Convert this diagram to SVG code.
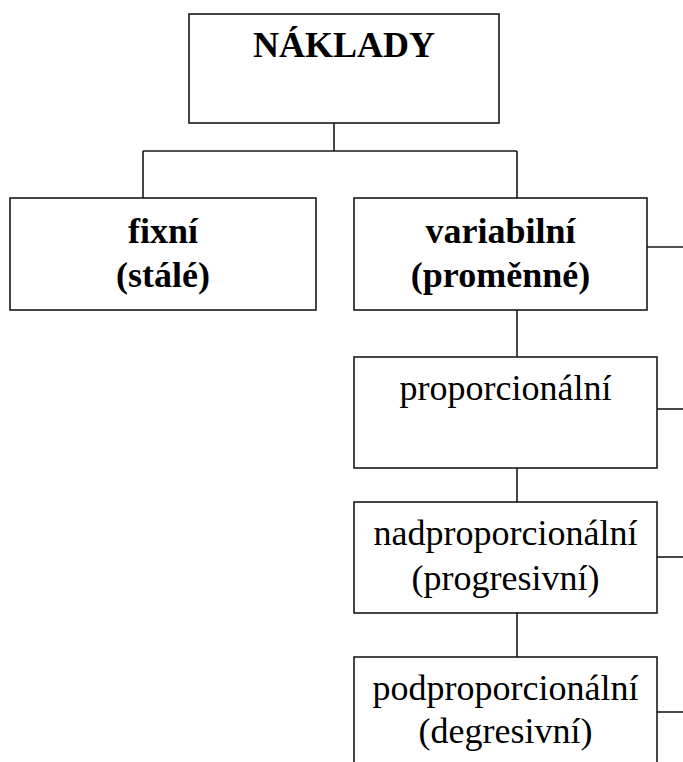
<svg xmlns="http://www.w3.org/2000/svg" width="683" height="762" viewBox="0 0 683 762">
<style>
.box{fill:#fff;stroke:#1a1a1a;stroke-width:1.6}
.con{fill:none;stroke:#1a1a1a;stroke-width:1.6}
.t{font-family:"Liberation Serif","Times New Roman",serif;font-size:36px;fill:#000;text-anchor:middle}
.b{font-weight:bold}
</style>
<rect width="683" height="762" fill="#fff"/>
<g id="connectors">
<path class="con" d="M334 123V151M143 151H517M143 151V198M517 151V198"/>
<path class="con" d="M647 247H683"/>
<path class="con" d="M517 310V357"/>
<path class="con" d="M657 409H683"/>
<path class="con" d="M517 468V502"/>
<path class="con" d="M657 557H683"/>
<path class="con" d="M517 613V657"/>
<path class="con" d="M657 712H683"/>
</g>
<g id="naklady">
<rect class="box" x="189" y="14" width="310" height="109"/>
<text class="t b" x="344" y="57">NÁKLADY</text>
</g>
<g id="fixni">
<rect class="box" x="10" y="198" width="306" height="112"/>
<text class="t b" x="163" y="243">fixní</text>
<text class="t b" x="163" y="287">(stálé)</text>
</g>
<g id="variabilni">
<rect class="box" x="354" y="198" width="293" height="112"/>
<text class="t b" x="500.5" y="243">variabilní</text>
<text class="t b" x="500.5" y="287">(proměnné)</text>
</g>
<g id="proporcionalni">
<rect class="box" x="354" y="357" width="303" height="111"/>
<text class="t" x="505.5" y="400">proporcionální</text>
</g>
<g id="nadproporcionalni">
<rect class="box" x="354" y="502" width="303" height="111"/>
<text class="t" x="505.5" y="545">nadproporcionální</text>
<text class="t" x="505.5" y="590">(progresivní)</text>
</g>
<g id="podproporcionalni">
<rect class="box" x="354" y="657" width="303" height="120"/>
<text class="t" x="505.5" y="700">podproporcionální</text>
<text class="t" x="505.5" y="743">(degresivní)</text>
</g>
</svg>
